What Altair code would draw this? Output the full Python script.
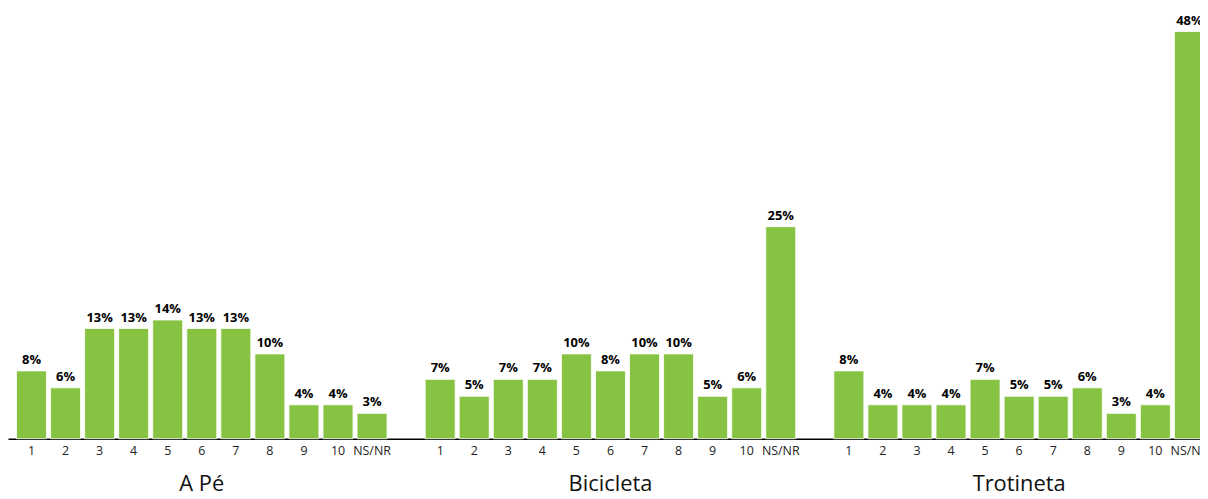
import altair as alt
import pandas as pd

groups = ["A Pé", "Bicicleta", "Trotineta"]
cats = ["1", "2", "3", "4", "5", "6", "7", "8", "9", "10", "NS/NR"]
a_pe = [8, 6, 13, 13, 14, 13, 13, 10, 4, 4, 3]
bicicleta = [7, 5, 7, 7, 10, 8, 10, 10, 5, 6, 25]
trotineta = [8, 4, 4, 4, 7, 5, 5, 6, 3, 4, 48]

series = {"A Pé": a_pe, "Bicicleta": bicicleta, "Trotineta": trotineta}

rows = []
for g in groups:
    for c, v in zip(cats, series[g]):
        rows.append({"grupo": g, "cat": c, "key": g + "|" + c, "v": v})
df = pd.DataFrame(rows)

domain = []
for i, g in enumerate(groups):
    domain += [g + "|" + c for c in cats]
    if i < len(groups) - 1:
        domain.append("gap" + str(i))

glabels = pd.DataFrame({"grupo": groups, "key": [g + "|6" for g in groups]})

FONT = "Open Sans"
GREEN = "#86C343"
H = 410

xenc = alt.X(
    "key:N",
    scale=alt.Scale(domain=domain, paddingInner=0.12, paddingOuter=0.25),
    axis=alt.Axis(
        title=None,
        labelExpr="indexof(datum.label, '|') >= 0 ? split(datum.label, '|')[1] : ''",
        labelAngle=0,
        ticks=False,
        domainColor="#000000",
        domainWidth=1.5,
        labelFont=FONT,
        labelFontSize=12.5,
        labelColor="#222222",
        labelPadding=6,
        grid=False,
    ),
)
yenc = alt.Y(
    "v:Q",
    scale=alt.Scale(domain=[0, 48], nice=False),
    axis=None,
)

base = alt.Chart(df)
bars = base.mark_bar(color=GREEN, stroke="#ffffff", strokeWidth=0.8).encode(x=xenc, y=yenc)
labels = base.transform_calculate(lbl="datum.v + '%'").mark_text(
    font=FONT, fontSize=13, fontWeight="bold", baseline="bottom", dy=-4, color="#000000"
).encode(x=alt.X("key:N"), y=alt.Y("v:Q"), text="lbl:N")

grp = alt.Chart(glabels).mark_text(
    font=FONT, fontSize=22, baseline="middle", color="#111111"
).encode(x=alt.X("key:N"), y=alt.value(H + 46), text="grupo:N")

chart = (
    alt.layer(bars, labels, grp)
    .properties(
        width=1213,
        height=H,
        autosize=alt.AutoSizeParams(type="none"),
        padding={"left": 0, "top": 22, "right": -13, "bottom": 59},
        background="#ffffff",
    )
    .configure_view(strokeWidth=0, stroke="transparent")
)

chart.save("out.html", embed_options={"renderer": "svg", "actions": False})
